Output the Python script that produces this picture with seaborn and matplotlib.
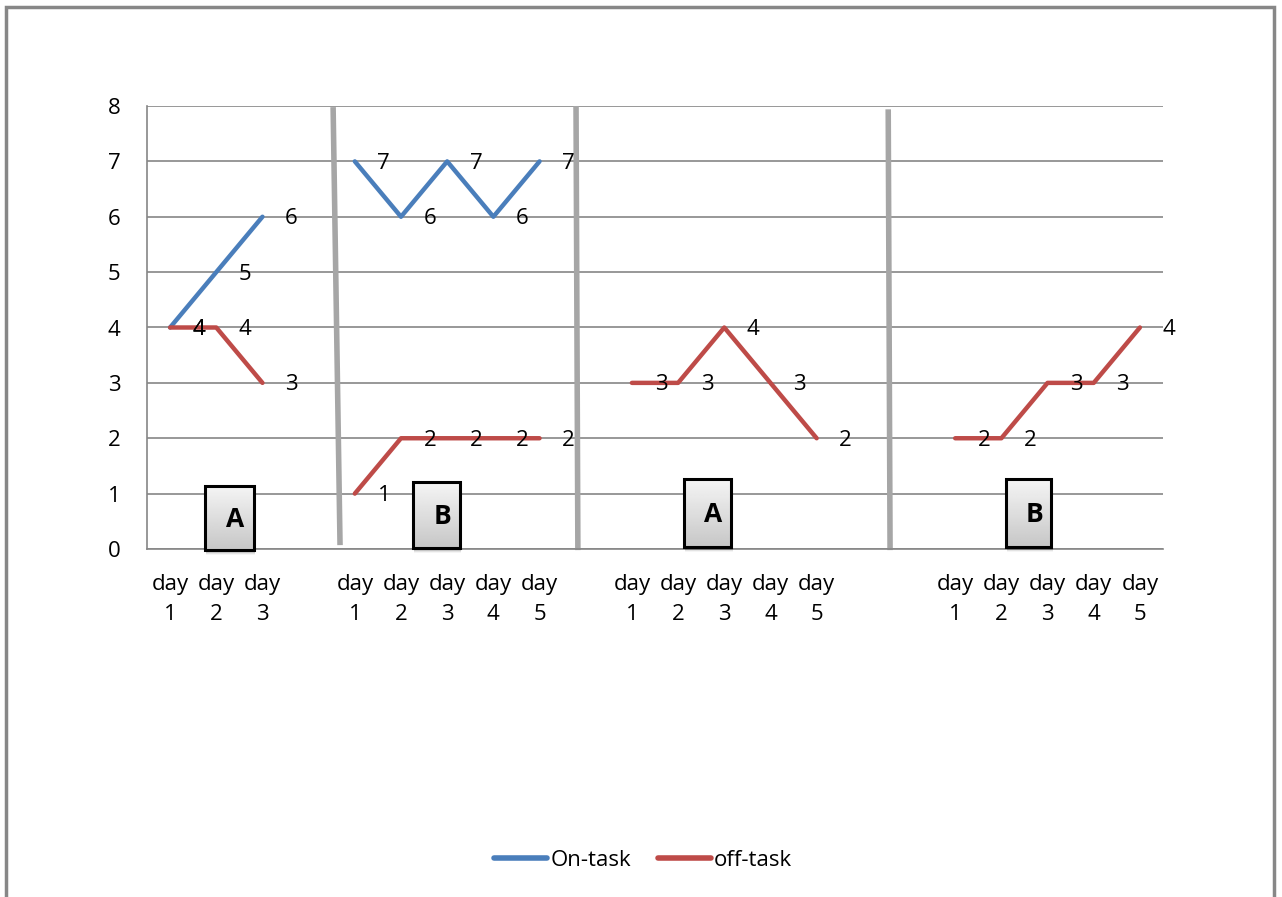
import numpy as np
import pandas as pd
import matplotlib
matplotlib.use("Agg")
import matplotlib.pyplot as plt
import seaborn as sns
from matplotlib.patches import Rectangle
from matplotlib.lines import Line2D

# ---------------- data ----------------
categories = ["day\n1", "day\n2", "day\n3", "",
              "day\n1", "day\n2", "day\n3", "day\n4", "day\n5", "",
              "day\n1", "day\n2", "day\n3", "day\n4", "day\n5", "", "",
              "day\n1", "day\n2", "day\n3", "day\n4", "day\n5"]
phase_names = ["A", "B", "A", "B"]
on_task_A1 = [4, 5, 6]
on_task_B1 = [7, 6, 7, 6, 7]
off_task_A1 = [4, 4, 3]
off_task_B1 = [1, 2, 2, 2, 2]
off_task_A2 = [3, 3, 4, 3, 2]
off_task_B2 = [2, 2, 3, 3, 4]
y_ticks = [0, 1, 2, 3, 4, 5, 6, 7, 8]

BLUE = "#4A7EBB"
RED = "#BE4B48"
GRID = "#868686"

# phase start positions = indices of each "day 1"
starts = [i for i, c in enumerate(categories) if c == "day\n1"]

rows = []
series_data = [
    ("On-task", 0, on_task_A1), ("On-task", 1, on_task_B1),
    ("off-task", 0, off_task_A1), ("off-task", 1, off_task_B1),
    ("off-task", 2, off_task_A2), ("off-task", 3, off_task_B2),
]
for name, ph, vals in series_data:
    for k, v in enumerate(vals):
        rows.append({"pos": starts[ph] + k, "value": v, "series": name,
                     "phase": f"{name}-{ph}"})
df = pd.DataFrame(rows)

# ---------------- figure ----------------
sns.set_theme(style="white")
FONT = ["Open Sans", "DejaVu Sans"]
plt.rcParams["font.family"] = FONT
plt.rcParams["text.color"] = "black"
plt.rcParams["xtick.color"] = "black"
plt.rcParams["ytick.color"] = "black"

FS = 16

fig = plt.figure(figsize=(12.82, 8.97), dpi=100)
W, H = 1282, 897
ax = fig.add_axes([147 / W, 1 - 549 / H, (1163 - 147) / W, (549 - 106) / H])

sns.lineplot(data=df, x="pos", y="value", hue="series", units="phase",
             estimator=None, palette={"On-task": BLUE, "off-task": RED},
             linewidth=3.2, ax=ax, legend=False, zorder=3)

ax.set_xlim(-0.5, len(categories) - 0.5)
ax.set_ylim(0, 8)
ax.set_yticks(y_ticks)
ax.set_yticklabels([str(t) for t in y_ticks], fontsize=FS, color="black")
ax.set_xticks(range(len(categories)))
ax.set_xticklabels(categories, fontsize=FS, color="black")
for lab in ax.get_xticklabels():
    lab.set_linespacing(1.55)
ax.tick_params(axis="x", length=0, pad=18)
ax.tick_params(axis="y", length=0, pad=19)
ax.set_xlabel("")
ax.set_ylabel("")
ax.grid(axis="y", color=GRID, linewidth=1.2)
ax.grid(axis="x", visible=False)
for s in ["top", "right"]:
    ax.spines[s].set_visible(False)
ax.spines["left"].set_color(GRID)
ax.spines["bottom"].set_color(GRID)
ax.spines["left"].set_linewidth(1.2)
ax.spines["bottom"].set_linewidth(1.2)

# data labels
for _, r in df.iterrows():
    ax.annotate(str(int(r["value"])), (r["pos"], r["value"]),
                xytext=(29, -2), textcoords="offset pixels",
                ha="center", va="center", fontsize=FS, color="black",
                zorder=4)

# phase change lines (drawn shapes)
phase_lines = [((3.53, 7.98), (3.68, 0.07)),
               ((8.79, 8.0), (8.83, -0.02)),
               ((15.55, 7.94), (15.59, -0.02))]
for (x0, y0), (x1, y1) in phase_lines:
    ax.plot([x0, x1], [y0, y1], color="#A6A6A6", linewidth=4,
            clip_on=False, zorder=2, solid_capstyle="butt")

# phase label boxes
boxes = [(0.756, 1.817, -0.02, 1.137), (5.26, 6.28, 0.02, 1.21),
         (11.13, 12.15, 0.04, 1.26), (18.10, 19.08, 0.04, 1.26)]
grad = np.linspace(0.96, 0.78, 64).reshape(-1, 1)
for (x0, x1, y0, y1), name in zip(boxes, phase_names):
    # soft shadow
    for j, a in enumerate([0.10, 0.07, 0.04]):
        ax.add_patch(Rectangle((x0 + 0.03, y0 - 0.05 - j * 0.02),
                               (x1 - x0), (y1 - y0), facecolor="black",
                               alpha=a, edgecolor="none", zorder=4,
                               clip_on=False))
    ax.imshow(grad, cmap="gray", vmin=0, vmax=1, aspect="auto",
              extent=(x0, x1, y0, y1), zorder=5, clip_on=False,
              interpolation="bilinear")
    ax.add_patch(Rectangle((x0, y0), x1 - x0, y1 - y0, facecolor="none",
                           edgecolor="black", linewidth=2.2, zorder=6,
                           clip_on=False))
    ax.text((x0 + x1) / 2 + 0.12, (y0 + y1) / 2 - 0.02, name, ha="center",
            va="center", fontsize=19, fontweight="bold", zorder=7)
ax.set_xlim(-0.5, len(categories) - 0.5)
ax.set_ylim(0, 8)

# legend
handles = [Line2D([], [], color=BLUE, linewidth=4),
           Line2D([], [], color=RED, linewidth=4)]
fig.legend(handles, ["On-task", "off-task"], loc="center",
           bbox_to_anchor=(643 / W, 1 - 860 / H), ncol=2, frameon=False,
           fontsize=FS, handlelength=2.4, handletextpad=0.15,
           columnspacing=1.2)

# outer chart border
fig.add_artist(Rectangle((6 / W, -0.05), (1274 - 6) / W, 1.05 - 7 / H,
                         transform=fig.transFigure, facecolor="none",
                         edgecolor="#878787", linewidth=2.5))

fig.savefig("out.png", dpi=100)
